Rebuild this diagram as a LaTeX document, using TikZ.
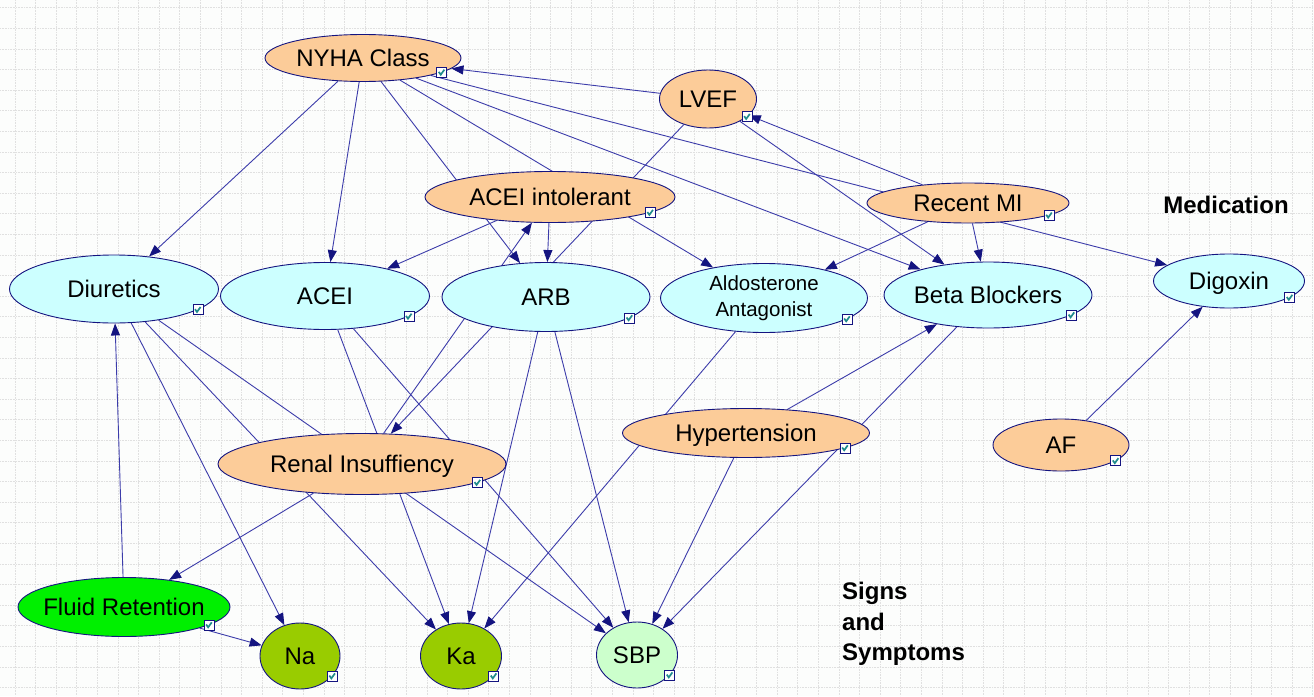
\documentclass[tikz,border=0pt]{standalone}
\usepackage{fontspec}
\setmainfont{Liberation Sans}
\usepackage{xcolor}
\usepackage{tikz}
\usetikzlibrary{shapes.geometric, arrows.meta, calc, backgrounds}

\definecolor{peach}{RGB}{252,204,153}
\definecolor{medcyan}{RGB}{204,255,255}
\definecolor{fluidgreen}{RGB}{0,240,0}
\definecolor{labgreen}{RGB}{153,204,0}
\definecolor{palegreen}{RGB}{204,255,204}
\definecolor{linknavy}{RGB}{20,20,128}
\definecolor{linkblue}{RGB}{60,60,170}
\definecolor{ticked}{RGB}{32,140,140}
\definecolor{gridgray}{RGB}{224,224,224}
\definecolor{paper}{RGB}{252,253,252}

% little "observed" box at the lower right of a node
\newcommand{\chk}[1]{\node[chkbox] (#1-chk) at ($0.8*(#1.east)+0.6*(#1.south)-0.4*(#1.center)$) {};}

\begin{document}
\begin{tikzpicture}[x=1pt, y=-1pt,
  every node/.style={font=\fontsize{24}{28}\selectfont},
  wh/.style 2 args={minimum width=#1pt, minimum height=#2pt},
  ell/.style={ellipse, draw=linknavy, line width=0.9pt, inner sep=0pt},
  oneline/.style={text height=17.5pt, text depth=0pt},
  risk/.style={ell, oneline, fill=peach},
  med/.style={ell, oneline, fill=medcyan},
  sign/.style={ell, oneline, fill=labgreen},
  chkbox/.style={rectangle, draw=linknavy, fill=white, line width=0.8pt,
    minimum size=10pt, inner sep=0pt,
    path picture={\draw[ticked, line width=1.7pt]
      ($(path picture bounding box.center)+(-3,-0.5)$) -- ++(2,2.8) -- ++(3.6,-5);}},
  edge/.style={draw=linkblue, line width=0.9pt,
    -{Triangle[length=12pt, width=9pt, color=linknavy]}},
  gridline/.style={draw=gridgray, line width=0.6pt, densely dotted},
  heading/.style={font=\bfseries\fontsize{24}{30.5}\selectfont, align=left, inner sep=0pt}]
\useasboundingbox (0,0) rectangle (1314,696);

% Risk factors
\node[risk, wh={196}{47}] (nyha) at (363,58) {NYHA Class};
\chk{nyha}
\node[risk, wh={97}{58}] (lvef) at (708,99) {LVEF};
\chk{lvef}
\node[risk, wh={250}{51}] (acint) at (550,197) {ACEI intolerant};
\chk{acint}
\node[risk, wh={202}{40}] (rmi) at (968,203) {Recent MI};
\chk{rmi}
\node[risk, wh={247}{49}] (hyp) at (746,433) {Hypertension};
\chk{hyp}
\node[risk, wh={136}{52}] (af) at (1061,445) {AF};
\chk{af}
\node[risk, wh={288}{61}] (renal) at (362,464) {Renal Insuffiency};
\chk{renal}

% Medication
\node[med, wh={209}{68}] (diur) at (114,289) {Diuretics};
\chk{diur}
\node[med, wh={209}{67}] (acei) at (325,296) {ACEI};
\chk{acei}
\node[med, wh={208}{69}] (arb) at (546,297) {ARB};
\chk{arb}
\node[ell, fill=medcyan, wh={207}{69}, align=center,
  font=\fontsize{20.5}{26}\selectfont] (aldo) at (764,298) {Aldosterone\\Antagonist};
\chk{aldo}
\node[med, wh={208}{66}] (beta) at (988,295) {\makebox[0pt]{Beta Blockers}};
\chk{beta}
\node[med, wh={151}{54}] (digo) at (1229,281) {Digoxin};
\chk{digo}

% Signs and symptoms
\node[sign, fill=fluidgreen, wh={212}{59}] (fluid) at (124,607) {\makebox[0pt]{Fluid Retention}};
\chk{fluid}
\node[sign, wh={80}{66}] (na) at (300,656) {Na};
\chk{na}
\node[sign, wh={81}{66}] (ka) at (461,656) {Ka};
\chk{ka}
\node[sign, fill=palegreen, wh={81}{66}] (sbp) at (637,655) {SBP};
\chk{sbp}

\node[heading] (medlbl) at (1226,205) {Medication};
\node[heading, anchor=west] (signlbl) at (842,624) {Signs\\and\\Symptoms};

% Links, behind the nodes
\begin{scope}[on background layer]
\fill[paper] (0,0) rectangle (1314,696);
\foreach \gx in {14.9,35.5,...,1314} \draw[gridline] (\gx,0) -- (\gx,696);
\foreach \gy in {7.7,28.3,...,696} \draw[gridline] (0,\gy) -- (1314,\gy);
\foreach \src/\dst in {lvef/nyha, rmi/lvef, nyha/diur, nyha/acei, nyha/arb,
    nyha/aldo, nyha/beta, nyha/digo, lvef/beta, lvef/renal, acint/acei,
    acint/arb, renal/acint, rmi/aldo, rmi/beta, af/digo, hyp/beta, hyp/sbp,
    beta/sbp, aldo/ka, diur/na, diur/ka, diur/sbp, acei/ka, acei/sbp,
    arb/ka, arb/sbp, renal/fluid, fluid/diur, fluid/na}
  \draw[edge] (\src) -- (\dst);
\end{scope}
\end{tikzpicture}
\end{document}
